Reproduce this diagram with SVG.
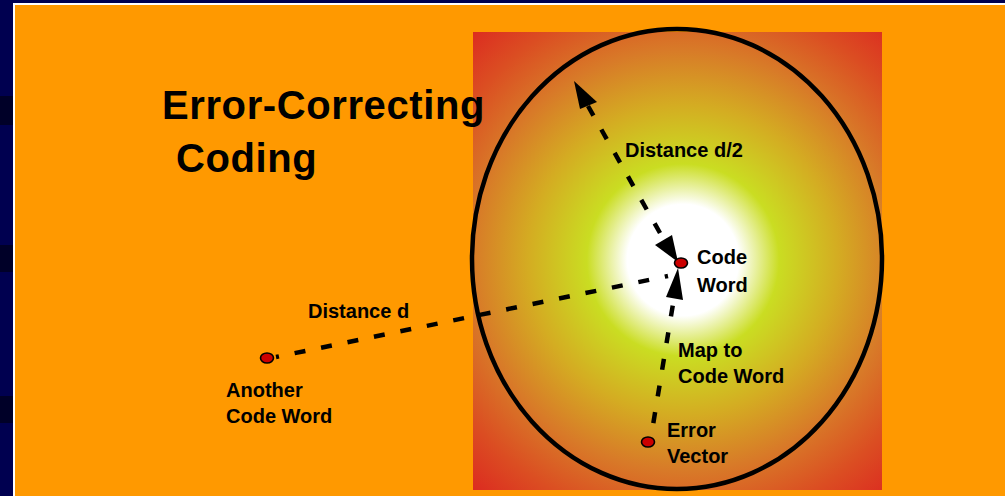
<svg xmlns="http://www.w3.org/2000/svg" width="1005" height="496" viewBox="0 0 1005 496">
<defs>
<radialGradient id="glow" gradientUnits="userSpaceOnUse" cx="683" cy="260" r="310">
<stop offset="0" stop-color="#ffffff"/>
<stop offset="0.18" stop-color="#ffffff"/>
<stop offset="0.31" stop-color="#cadd22"/>
<stop offset="0.5" stop-color="#d4ac22"/>
<stop offset="0.68" stop-color="#d87a28"/>
<stop offset="0.85" stop-color="#db4e22"/>
<stop offset="1" stop-color="#dc2c20"/>
</radialGradient>
<style>
.t{font-family:"Liberation Sans",Arial,sans-serif;font-weight:bold;fill:#000}
.lbl{font-size:20px}
.title{font-size:40px;letter-spacing:0.6px}
.dash{fill:none;stroke:#000;stroke-width:4.5;stroke-dasharray:11 16}
.dot{fill:#cc0000;stroke:#000;stroke-width:1.6}
.head{fill:#000}
</style>
</defs>
<rect x="0" y="0" width="1005" height="496" fill="#000050"/>
<rect x="0" y="96" width="13" height="29" fill="#000028"/>
<rect x="0" y="245" width="13" height="27" fill="#000028"/>
<rect x="0" y="396" width="13" height="27" fill="#000028"/>
<rect x="13" y="3" width="992" height="493" fill="#ffffff"/>
<rect x="15" y="5" width="990" height="491" fill="#ff9900"/>
<rect x="473" y="32" width="409" height="458" fill="url(#glow)"/>
<ellipse cx="677" cy="259" rx="205" ry="230" fill="none" stroke="#000" stroke-width="4.5"/>
<g id="title">
<text class="t title" x="162" y="119">Error-Correcting</text>
<text class="t title" x="176" y="172">Coding</text>
</g>
<g id="connectors">
<path class="dash" d="M588,106 L664,240"/>
<polygon class="head" points="574,81 580,109 597,102"/>
<polygon class="head" points="655,245 672,235 678,262"/>
<path class="dash" d="M653,425 L674,298" stroke-dashoffset="-2"/>
<polygon class="head" points="666,297 683,300 678,268"/>
<path class="dash" d="M276,357 L668,276" stroke-dashoffset="8"/>
</g>
<g id="code-word">
<ellipse class="dot" cx="681" cy="263" rx="6.5" ry="5"/>
<text class="t lbl" x="697" y="264">Code</text>
<text class="t lbl" x="697" y="292">Word</text>
</g>
<g id="another-code-word">
<ellipse class="dot" cx="267" cy="358" rx="6.5" ry="5"/>
<text class="t lbl" x="226" y="397">Another</text>
<text class="t lbl" x="226" y="423">Code Word</text>
</g>
<g id="error-vector">
<ellipse class="dot" cx="648" cy="442" rx="6.5" ry="5"/>
<text class="t lbl" x="667" y="437">Error</text>
<text class="t lbl" x="667" y="463">Vector</text>
</g>
<g id="labels">
<text class="t lbl" x="625" y="157">Distance d/2</text>
<text class="t lbl" x="308" y="318">Distance d</text>
<text class="t lbl" x="678" y="357">Map to</text>
<text class="t lbl" x="678" y="383">Code Word</text>
</g>
</svg>
